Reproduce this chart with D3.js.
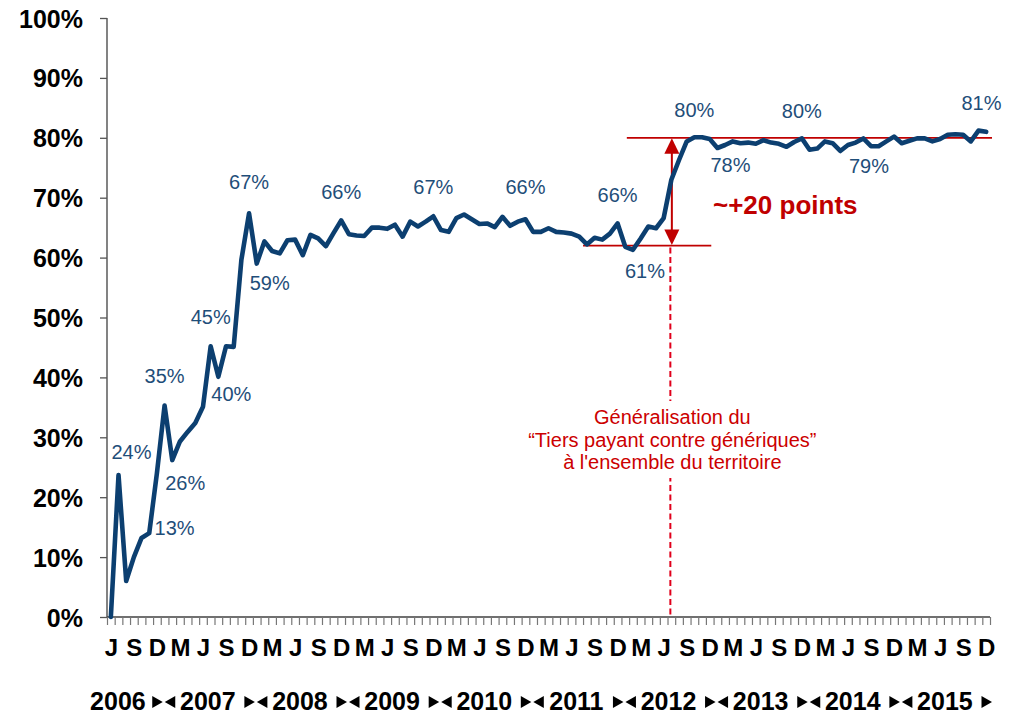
<!DOCTYPE html>
<html>
<head>
<meta charset="utf-8">
<script src="https://cdn.jsdelivr.net/npm/d3@7"></script>
<style>
  body { margin: 0; background: #fff; }
  svg { display: block; }
  text { font-family: Arial, "Liberation Sans", sans-serif; }
</style>
</head>
<body>
<svg id="chart" width="1021" height="714"></svg>
<script>
// Monthly share (%) from June 2006 to December 2015
const firstMonth = new Date(2006, 5, 1);
const lastMonth = new Date(2015, 11, 1);
const months = d3.timeMonth.range(firstMonth, d3.timeMonth.offset(lastMonth, 1));

const rate = [
  0.0, 23.7, 6.0, 10.0, 13.2, 14.0, 24.0,
  35.3, 26.2, 29.3, 30.9, 32.4, 35.1, 45.2, 40.1, 45.2, 45.1, 59.6, 67.4,
  59.0, 62.7, 61.1, 60.7, 62.9, 63.0, 60.4, 63.8, 63.2, 61.9, 64.1, 66.2,
  63.9, 63.7, 63.6, 65.0, 65.0, 64.8, 65.5, 63.5, 66.0, 65.2, 66.0, 66.9,
  64.6, 64.3, 66.6, 67.2, 66.4, 65.6, 65.7, 65.1, 66.8, 65.3, 66.0, 66.4,
  64.3, 64.3, 64.9, 64.3, 64.2, 64.0, 63.5, 62.2, 63.3, 63.0, 64.0, 65.7,
  61.8, 61.3, 63.2, 65.2, 64.9, 66.6, 73.0, 76.3, 79.4, 80.1, 80.1, 79.8,
  78.3, 78.8, 79.4, 79.1, 79.2, 79.0, 79.6, 79.2, 79.0, 78.5, 79.3, 79.9,
  78.0, 78.2, 79.4, 79.1, 77.8, 78.8, 79.2, 79.9, 78.6, 78.6, 79.4, 80.2,
  79.1, 79.5, 79.9, 79.9, 79.4, 79.8, 80.5, 80.6, 80.5, 79.4, 81.2, 81.0
];

const monthInitials = ["J", "F", "M", "A", "M", "J", "J", "A", "S", "O", "N", "D"];
const years = [2006, 2007, 2008, 2009, 2010, 2011, 2012, 2013, 2014, 2015];
const yTicks = [0, 10, 20, 30, 40, 50, 60, 70, 80, 90, 100];

// Points that carry a value label
const labelledPoints = [1, 4, 7, 8, 13, 14, 18, 19, 30, 42, 54, 66, 68, 76, 79, 90, 99, 113];

// Reform (July 2012) and the two reference levels around it
const reformMonth = new Date(2012, 6, 1);
const levelBefore = 62;
const levelAfter = 80;
const gainText = "~+20 points";
const noteLines = ["Généralisation du", "\u201CTiers payant contre génériques\u201D", "à l'ensemble du territoire"];

// ---- layout ----
const svg = d3.select("#chart");
const plotLeft = 107, plotRight = 990, plotTop = 18, plotBottom = 617;
const blue = "#0C3F70", labelBlue = "#1F4E79", red = "#C00000";

const x = d3.scaleLinear().domain([-0.5, months.length - 0.5]).range([plotLeft, plotRight]);
const y = d3.scaleLinear().domain([0, 100]).range([plotBottom, plotTop]);
const idxOf = date => d3.timeMonth.count(firstMonth, date);

// label offsets from their point (dx, dy of text centre)
const labelOffset = {
  1: [13, -23], 4: [33, -10], 7: [0, -30], 8: [13, 23], 13: [0, -29], 14: [13, 17],
  18: [0, -31], 19: [13, 19], 30: [0, -29], 42: [0, -29], 54: [0, -32], 66: [0, -29],
  68: [12, 21], 76: [0, -27], 79: [13, 17], 90: [0, -28], 99: [-2, 20], 113: [3, -28]
};

// Y axis
const yAxis = svg.append("g")
  .attr("transform", `translate(${plotLeft},0)`)
  .call(d3.axisLeft(y).tickValues(yTicks).tickSize(7).tickPadding(17).tickFormat(d => d + "%"));
yAxis.select(".domain").attr("stroke", "#404040").attr("stroke-width", 1.3).attr("d", `M0,${plotTop}V${plotBottom}`);
yAxis.selectAll(".tick line").attr("stroke", "#555").attr("stroke-width", 1.3);
yAxis.selectAll(".tick text")
  .attr("fill", "#000").attr("font-size", 25).attr("font-weight", "bold")
  .attr("dy", "0.36em").style("font-family", "Arial, 'Liberation Sans', sans-serif");

// X axis: a tick at each month boundary
const xTicks = svg.append("g")
  .attr("transform", `translate(0,${plotBottom})`)
  .call(d3.axisBottom(x).tickValues(d3.range(-0.5, months.length, 1)).tickSize(8).tickFormat(""));
xTicks.select(".domain").attr("stroke", "#404040").attr("stroke-width", 1.3).attr("d", `M${plotLeft},0H${plotRight}`);
xTicks.selectAll(".tick line").attr("stroke", "#777").attr("stroke-width", 1.2);

// Month initials every quarter
const quarterIdx = d3.range(0, months.length, 3);
const xLabels = svg.append("g")
  .attr("transform", `translate(0,${plotBottom})`)
  .call(d3.axisBottom(x).tickValues(quarterIdx).tickSize(0).tickPadding(22)
    .tickFormat(i => monthInitials[months[i].getMonth()]));
xLabels.select(".domain").remove();
xLabels.selectAll(".tick text")
  .attr("fill", "#000").attr("font-size", 24).attr("font-weight", "bold")
  .style("font-family", "Arial, 'Liberation Sans', sans-serif");

// Year row with ►◄ separators
const yearRow = svg.append("g");
const yearBaseline = 710, arrowMid = 702;
years.forEach((yr, k) => {
  const first = Math.max(0, idxOf(new Date(yr, 0, 1)));
  const last = Math.min(months.length - 1, idxOf(new Date(yr, 11, 1)));
  const t = yearRow.append("text")
    .attr("y", yearBaseline).attr("font-size", 25).attr("font-weight", "bold").attr("fill", "#000")
    .text(yr);
  if (k === 0) {
    t.attr("x", x(last + 0.5) - 15).attr("text-anchor", "end");
  } else {
    t.attr("x", (x(first) + x(last)) / 2 + 1).attr("text-anchor", "middle");
  }
  const b = x(last + 0.5);
  // right-pointing marker closing the year
  yearRow.append("path")
    .attr("d", `M${b - 8.5},${arrowMid - 6}L${b + 2},${arrowMid}L${b - 8.5},${arrowMid + 6}Z`)
    .attr("fill", "#000");
  if (k < years.length - 1) {
    yearRow.append("path")
      .attr("d", `M${b + 14.5},${arrowMid - 6}L${b + 4},${arrowMid}L${b + 14.5},${arrowMid + 6}Z`)
      .attr("fill", "#000");
  }
});

// Reference levels, arrow and reform marker
const xr = x(idxOf(reformMonth));
const ann = svg.append("g");
ann.append("line")
  .attr("x1", x(67.2)).attr("x2", plotRight + 2).attr("y1", y(levelAfter)).attr("y2", y(levelAfter))
  .attr("stroke", red).attr("stroke-width", 1.8);
ann.append("line")
  .attr("x1", x(61.5)).attr("x2", x(78.2)).attr("y1", y(levelBefore)).attr("y2", y(levelBefore))
  .attr("stroke", red).attr("stroke-width", 1.8);
ann.append("line")
  .attr("x1", xr - 1).attr("x2", xr - 1).attr("y1", y(levelBefore) + 2).attr("y2", plotBottom)
  .attr("stroke", "#E0001B").attr("stroke-width", 2).attr("stroke-dasharray", "6,3.5");

// double-headed arrow
const ax = xr + 0.5, ya = y(levelAfter), yb = y(levelBefore);
ann.append("line")
  .attr("x1", ax).attr("x2", ax).attr("y1", ya + 10).attr("y2", yb - 10)
  .attr("stroke", red).attr("stroke-width", 2);
ann.append("path")
  .attr("d", `M${ax},${ya + 0.5}L${ax + 7.5},${ya + 16}L${ax - 7.5},${ya + 16}Z`).attr("fill", red);
ann.append("path")
  .attr("d", `M${ax},${yb - 0.5}L${ax + 7.5},${yb - 16}L${ax - 7.5},${yb - 16}Z`).attr("fill", red);

ann.append("text")
  .attr("x", 713).attr("y", 214)
  .attr("font-size", 26).attr("font-weight", "bold").attr("fill", red)
  .text(gainText);

// reform note, on a white box that breaks the dashed line
const noteTop = 401, noteBottom = 478;
ann.append("rect")
  .attr("x", xr - 160).attr("y", noteTop).attr("width", 320).attr("height", noteBottom - noteTop)
  .attr("fill", "#fff");
ann.selectAll("text.note").data(noteLines).join("text")
  .attr("class", "note")
  .attr("x", xr + 1).attr("y", (d, i) => 424 + i * 22.6)
  .attr("text-anchor", "middle").attr("font-size", 20).attr("fill", "#CC0000")
  .text(d => d);

// Series line
const line = d3.line().x((d, i) => x(i)).y(d => y(d)).curve(d3.curveLinear);
svg.append("path")
  .datum(rate)
  .attr("d", line)
  .attr("fill", "none").attr("stroke", blue).attr("stroke-width", 4.6)
  .attr("stroke-linejoin", "round").attr("stroke-linecap", "round");

// Value labels
svg.append("g").selectAll("text").data(labelledPoints).join("text")
  .attr("x", i => x(i) + labelOffset[i][0])
  .attr("y", i => y(rate[i]) + labelOffset[i][1])
  .attr("dy", "0.36em")
  .attr("text-anchor", "middle").attr("font-size", 20).attr("fill", labelBlue)
  .text(i => Math.round(rate[i]) + "%");
</script>
</body>
</html>
